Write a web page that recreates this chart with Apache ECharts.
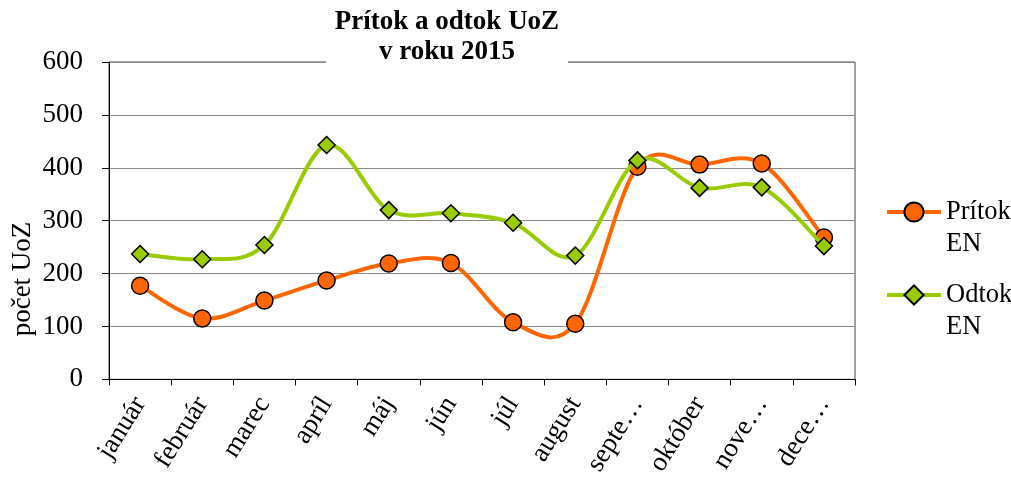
<!DOCTYPE html>
<html>
<head>
<meta charset="utf-8">
<script src="https://cdn.jsdelivr.net/npm/echarts@6/dist/echarts.min.js"></script>
<style>
html,body{margin:0;padding:0;background:#fff;}
#chart{width:1011px;height:479px;}
</style>
</head>
<body>
<div id="chart"></div>
<script>
// mesiace a hodnoty citane z grafu
var months = ['január','február','marec','apríl','máj','jún','júl','august','september','október','november','december'];
var monthLabels = ['január','február','marec','apríl','máj','jún','júl','august','septe…','október','nove…','dece…'];
var pritok = [177, 115, 149, 187, 219, 220, 108, 105, 402, 406, 408, 268];
var odtok = [237, 227, 254, 443, 320, 314, 296, 234, 414, 362, 363, 252];
var yTicks = [0, 100, 200, 300, 400, 500, 600];

var font = '"Liberation Serif", "Times New Roman", serif';
var chart = echarts.init(document.getElementById('chart'));

// vyhladena ciara ako v Exceli (Catmull-Rom), body cez api.coord
function smoothLine(values, color) {
    return function (params, api) {
        if (params.dataIndex !== 0) return null;
        var pts = values.map(function (v, i) { return api.coord([i, v]); });
        var n = pts.length, children = [];
        for (var i = 0; i < n - 1; i++) {
            var p0 = pts[Math.max(i - 1, 0)], p1 = pts[i], p2 = pts[i + 1], p3 = pts[Math.min(i + 2, n - 1)];
            children.push({
                type: 'bezierCurve',
                shape: {
                    x1: p1[0], y1: p1[1],
                    cpx1: p1[0] + (p2[0] - p0[0]) / 6, cpy1: p1[1] + (p2[1] - p0[1]) / 6,
                    cpx2: p2[0] - (p3[0] - p1[0]) / 6, cpy2: p2[1] - (p3[1] - p1[1]) / 6,
                    x2: p2[0], y2: p2[1]
                },
                style: {fill: null, stroke: color, lineWidth: 4, lineCap: 'round'}
            });
        }
        return {type: 'group', children: children};
    };
}

var option = {
    backgroundColor: '#fff',
    animation: false,
    title: {
        text: 'Prítok a odtok UoZ\nv roku 2015',
        left: 438,
        textAlign: 'center',
        top: 5,
        padding: [2, 9, 4, 9],
        backgroundColor: '#fff',
        textStyle: {
            fontFamily: font,
            fontWeight: 'bold',
            fontSize: 27,
            lineHeight: 30,
            color: '#000'
        }
    },
    legend: {
        orient: 'vertical',
        left: 885,
        top: 164,
        padding: 0,
        itemWidth: 54,
        itemHeight: 24,
        itemGap: -13,
        data: ['Prítok\nEN', 'Odtok\nEN'],
        formatter: function (name) { return '\n' + name; },
        lineStyle: {width: 4, opacity: 1},
        textStyle: {
            fontFamily: font,
            fontSize: 26.5,
            lineHeight: 32,
            color: '#000'
        }
    },
    graphic: [{
        type: 'text',
        x: 23,
        y: 279,
        rotation: Math.PI / 2,
        style: {
            text: 'počet UoZ',
            fontFamily: font,
            fontSize: 27,
            fill: '#000',
            align: 'center',
            verticalAlign: 'middle'
        }
    }],
    grid: {
        left: 109,
        right: 156,
        top: 62,
        bottom: 99,
        show: true,
        borderColor: '#444',
        borderWidth: 1,
        containLabel: false
    },
    xAxis: {
        type: 'category',
        data: months,
        boundaryGap: true,
        axisLine: {lineStyle: {color: '#000', width: 1}},
        axisTick: {show: true, length: 6, lineStyle: {color: '#000'}},
        axisLabel: {
            interval: 0,
            rotate: 58,
            margin: 20,
            fontFamily: font,
            fontSize: 27,
            color: '#000',
            formatter: function (v, i) { return monthLabels[i]; }
        }
    },
    yAxis: {
        type: 'value',
        min: yTicks[0],
        max: yTicks[yTicks.length - 1],
        interval: 100,
        axisLine: {show: true, lineStyle: {color: '#000', width: 1}},
        axisTick: {show: true, inside: false, length: 7, lineStyle: {color: '#000'}},
        axisLabel: {margin: 26, fontFamily: font, fontSize: 27, color: '#000'},
        splitLine: {lineStyle: {color: '#888', width: 1}}
    },
    series: [
        {
            name: 'pritok-ciara',
            type: 'custom',
            data: pritok,
            z: 2,
            silent: true,
            renderItem: smoothLine(pritok, '#FF6600')
        },
        {
            name: 'Prítok\nEN',
            type: 'line',
            data: pritok,
            z: 3,
            symbol: 'circle',
            symbolSize: 17,
            showAllSymbol: true,
            lineStyle: {color: '#FF6600', width: 4, opacity: 0},
            itemStyle: {color: '#FF6600', borderColor: '#000', borderWidth: 1.5}
        },
        {
            name: 'odtok-ciara',
            type: 'custom',
            data: odtok,
            z: 4,
            silent: true,
            renderItem: smoothLine(odtok, '#99CC00')
        },
        {
            name: 'Odtok\nEN',
            type: 'line',
            data: odtok,
            z: 5,
            symbol: 'diamond',
            symbolSize: 17,
            showAllSymbol: true,
            lineStyle: {color: '#99CC00', width: 4, opacity: 0},
            itemStyle: {color: '#99CC00', borderColor: '#000', borderWidth: 1.5}
        }
    ]
};

chart.setOption(option);

window.addEventListener('resize', function () {
    chart.resize();
});
</script>
</body>
</html>
